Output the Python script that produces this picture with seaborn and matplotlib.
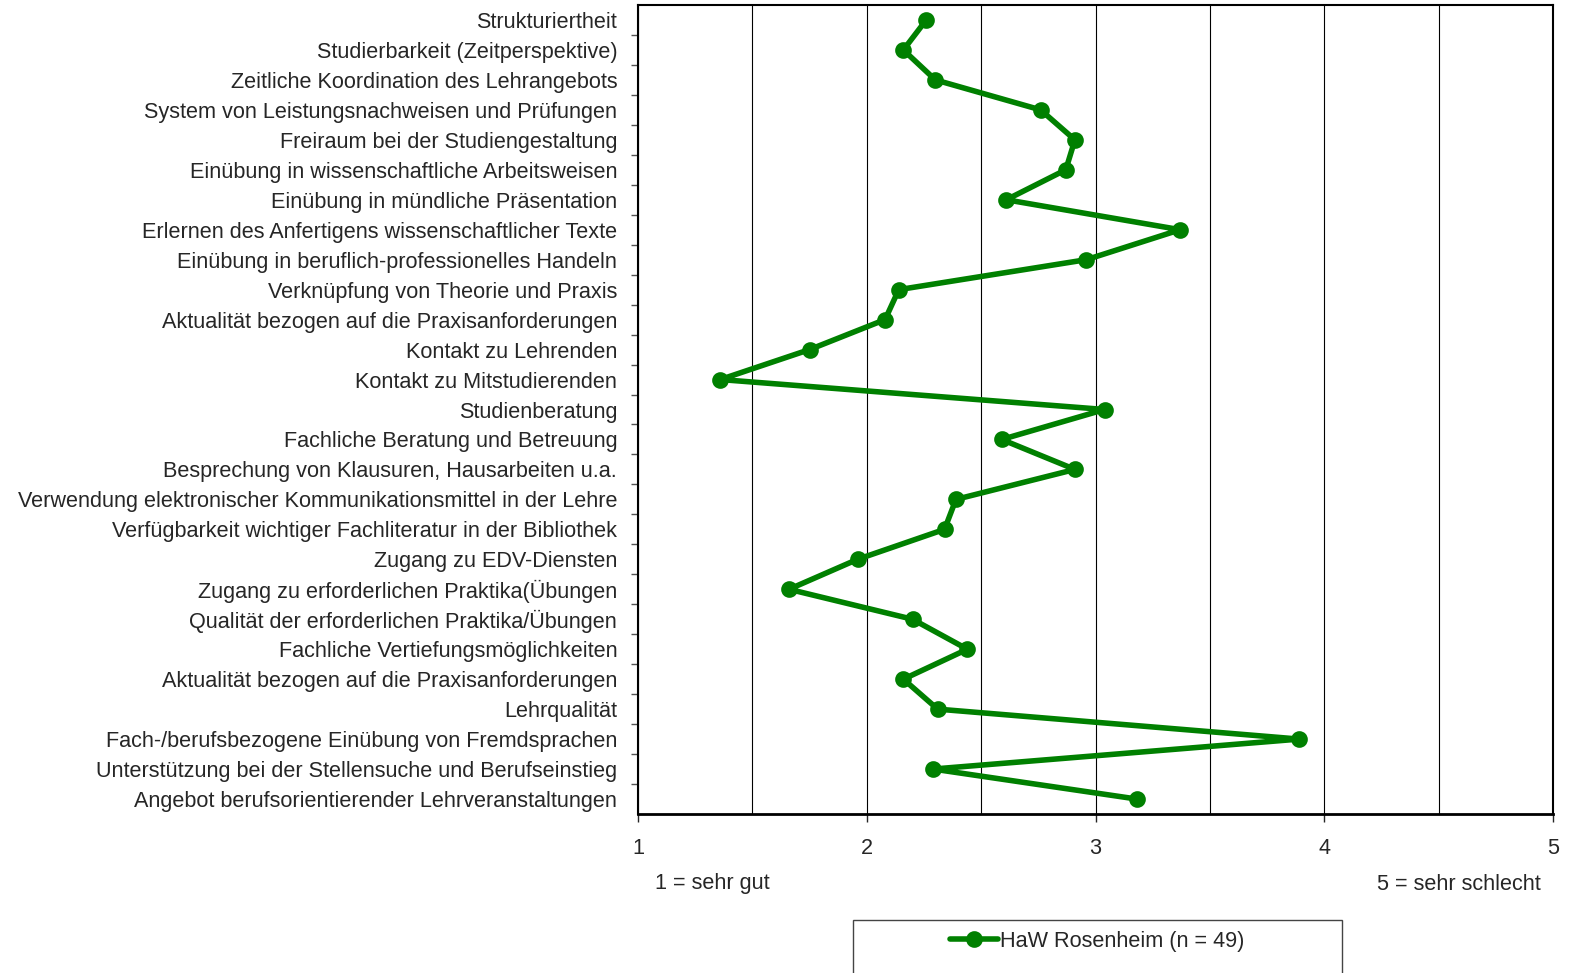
import numpy as np
import pandas as pd
import matplotlib.pyplot as plt
import matplotlib.ticker as mticker
from matplotlib.patches import Rectangle
import seaborn as sns

# --- Daten ---
kriterien = [
    'Strukturiertheit',
    'Studierbarkeit (Zeitperspektive)',
    'Zeitliche Koordination des Lehrangebots',
    'System von Leistungsnachweisen und Prüfungen',
    'Freiraum bei der Studiengestaltung',
    'Einübung in wissenschaftliche Arbeitsweisen',
    'Einübung in mündliche Präsentation',
    'Erlernen des Anfertigens wissenschaftlicher Texte',
    'Einübung in beruflich-professionelles Handeln',
    'Verknüpfung von Theorie und Praxis',
    'Aktualität bezogen auf die Praxisanforderungen',
    'Kontakt zu Lehrenden',
    'Kontakt zu Mitstudierenden',
    'Studienberatung',
    'Fachliche Beratung und Betreuung',
    'Besprechung von Klausuren, Hausarbeiten u.a.',
    'Verwendung elektronischer Kommunikationsmittel in der Lehre',
    'Verfügbarkeit wichtiger Fachliteratur in der Bibliothek',
    'Zugang zu EDV-Diensten',
    'Zugang zu erforderlichen Praktika(Übungen',
    'Qualität der erforderlichen Praktika/Übungen',
    'Fachliche Vertiefungsmöglichkeiten',
    'Aktualität bezogen auf die Praxisanforderungen\u200b',
    'Lehrqualität',
    'Fach-/berufsbezogene Einübung von Fremdsprachen',
    'Unterstützung bei der Stellensuche und Berufseinstieg',
    'Angebot berufsorientierender Lehrveranstaltungen',
]
werte = [2.26, 2.16, 2.30, 2.76, 2.91, 2.87, 2.61, 3.37, 2.96, 2.14, 2.08, 1.75, 1.36,
         3.04, 2.59, 2.91, 2.39, 2.34, 1.96, 1.66, 2.20, 2.44, 2.16, 2.31, 3.89, 2.29, 3.18]
serie = 'HaW Rosenheim (n = 49)'
x_ticks = [1, 2, 3, 4, 5]
skala_links = '1 = sehr gut'
skala_rechts = '5 = sehr schlecht'

df = pd.DataFrame({'kriterium': kriterien, 'wert': werte})

# --- Plot ---
sns.set_style('white')
plt.rcParams['font.family'] = ['Liberation Sans', 'DejaVu Sans']
FS = 15.6

W, H = 1595, 973
fig = plt.figure(figsize=(W / 100, H / 100), dpi=100)
ax = fig.add_axes([638 / W, 1 - 814 / H, (1553 - 638) / W, (814 - 5) / H])

sns.pointplot(data=df, x='wert', y='kriterium', color='#008000', markers='o',
              markersize=9, linewidth=4, errorbar=None, label=serie, ax=ax)
handles, labels = ax.get_legend_handles_labels()
if ax.get_legend() is not None:
    ax.get_legend().remove()

ax.set_xlim(1, 5)
ax.set_ylim(len(kriterien) - 0.5, -0.5)
ax.set_xticks(x_ticks)
ax.xaxis.set_minor_locator(mticker.MultipleLocator(0.5))
ax.grid(True, axis='x', which='both', color='black', linewidth=0.8)
ax.set_axisbelow(True)

# kleine Striche zwischen den Kategorien
ax.yaxis.set_minor_locator(mticker.FixedLocator(np.arange(0.5, len(kriterien) - 1, 1)))
ax.tick_params(axis='y', which='major', length=0, pad=15, labelsize=FS)
ax.tick_params(axis='y', which='minor', length=5, width=1, color='#555555', left=True)
ax.tick_params(axis='x', which='major', length=6, width=1, pad=11, labelsize=FS, bottom=True)
ax.tick_params(axis='x', which='minor', length=0)
ax.set_xlabel('')
ax.set_ylabel('')
for s in ax.spines.values():
    s.set_visible(True)
    s.set_color('black')
    s.set_linewidth(1.5)
ax.spines['bottom'].set_linewidth(2)

fig.text(655 / W, 1 - 884 / H, skala_links, fontsize=FS, ha='left', va='center')
fig.text(1541 / W, 1 - 884 / H, skala_rechts, fontsize=FS, ha='right', va='center')

# Legendenrahmen (unten abgeschnitten)
fig.patches.append(Rectangle((853 / W, -0.05), (1342 - 853) / W, 0.05 + (973 - 920) / H,
                             transform=fig.transFigure, fill=False, edgecolor='#444444',
                             linewidth=1))
fig.legend(handles[:1], labels[:1], loc='center', bbox_to_anchor=(1097 / W, 1 - 941 / H),
           frameon=False, fontsize=FS, handlelength=2.2, handletextpad=0.1)

fig.savefig('out.png', dpi=100)
